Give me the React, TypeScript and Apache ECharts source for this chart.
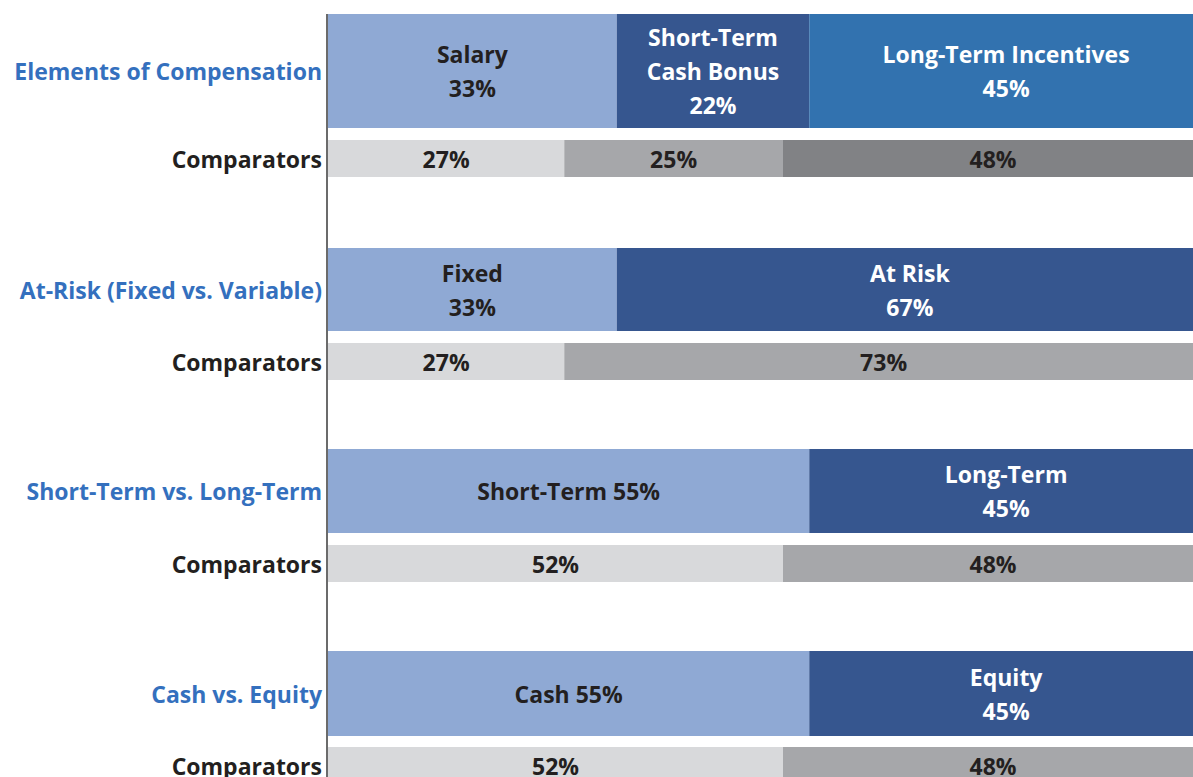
import React, { useEffect, useRef } from "react";
import * as echarts from "echarts";

// ---- Data ----
const groupNames = [
  "Elements of Compensation",
  "At-Risk (Fixed vs. Variable)",
  "Short-Term vs. Long-Term",
  "Cash vs. Equity",
];
const comparatorLabel = "Comparators";
const companySegmentNames = [
  ["Salary", "Short-Term\nCash Bonus", "Long-Term Incentives"],
  ["Fixed", "At Risk"],
  ["Short-Term", "Long-Term"],
  ["Cash", "Equity"],
];
// whether the value sits on the same line as the segment name
const companyInline = [
  [false, false, false],
  [false, false],
  [true, false],
  [true, false],
];
const companyValues = [
  [33, 22, 45],
  [33, 67],
  [55, 45],
  [55, 45],
];
const comparatorValues = [
  [27, 25, 48],
  [27, 73],
  [52, 48],
  [52, 48],
];

// ---- Styles ----
const FONT = "Open Sans";
const FONT_SIZE = 23;
const companyColors = [
  ["#8FA9D4", "#36568F", "#3272AF"],
  ["#8FA9D4", "#36568F"],
  ["#8FA9D4", "#36568F"],
  ["#8FA9D4", "#36568F"],
];
const companyTextColors = [
  ["#231F20", "#FFFFFF", "#FFFFFF"],
  ["#231F20", "#FFFFFF"],
  ["#231F20", "#FFFFFF"],
  ["#231F20", "#FFFFFF"],
];
const comparatorColors = ["#D8D9DB", "#A6A7AA", "#818285"];
// grid layout: [top, height] for main and comparator rows
const rowLayout = [
  { main: [14, 114], comp: [140, 37] },
  { main: [248, 83], comp: [343, 37] },
  { main: [449, 84], comp: [545, 37] },
  { main: [651, 85], comp: [747, 37] },
];
const LEFT = 328;
const WIDTH = 875;

export default function App() {
  const ref = useRef<HTMLDivElement>(null);
  useEffect(() => {
    if (!ref.current) return;
    const chart = echarts.init(ref.current, null, { renderer: "svg" });
    const grids: any[] = [];
    const xAxes: any[] = [];
    const yAxes: any[] = [];
    const series: any[] = [];
    let gi = 0;
    groupNames.forEach((g, r) => {
      const rows = [
        {
          name: g,
          labelColor: "#3470BE",
          layout: rowLayout[r].main,
          values: companyValues[r],
          colors: companyColors[r],
          textColors: companyTextColors[r],
          names: companySegmentNames[r],
          inline: companyInline[r],
        },
        {
          name: comparatorLabel,
          labelColor: "#231F20",
          layout: rowLayout[r].comp,
          values: comparatorValues[r],
          colors: comparatorColors,
          textColors: comparatorValues[r].map(() => "#231F20"),
          names: null as any,
          inline: null as any,
        },
      ];
      rows.forEach((row) => {
        grids.push({
          left: LEFT,
          width: WIDTH,
          top: row.layout[0],
          height: row.layout[1],
          containLabel: false,
        });
        xAxes.push({
          type: "value",
          gridIndex: gi,
          min: 0,
          max: 100,
          show: false,
        });
        yAxes.push({
          type: "category",
          gridIndex: gi,
          data: [row.name],
          axisLine: { show: false },
          axisTick: { show: false },
          axisLabel: {
            color: row.labelColor,
            fontFamily: FONT,
            fontWeight: "bold",
            fontSize: FONT_SIZE,
            margin: 6,
          },
        });
        row.values.forEach((v, k) => {
          const text = row.names
            ? row.names[k] + (row.inline[k] ? " " : "\n") + v + "%"
            : v + "%";
          series.push({
            type: "bar",
            xAxisIndex: gi,
            yAxisIndex: gi,
            stack: "s" + gi,
            barWidth: "100%",
            data: [v],
            itemStyle: { color: row.colors[k] },
            label: {
              show: true,
              position: "inside",
              formatter: text,
              color: row.textColors[k],
              fontFamily: FONT,
              fontWeight: "bold",
              fontSize: FONT_SIZE,
              lineHeight: 34,
            },
          });
        });
        gi++;
      });
    });
    chart.setOption({
      animation: false,
      backgroundColor: "#FFFFFF",
      grid: grids,
      xAxis: xAxes,
      yAxis: yAxes,
      series,
      graphic: [
        {
          type: "line",
          shape: { x1: LEFT - 1, y1: 14, x2: LEFT - 1, y2: 800 },
          style: { stroke: "#6B6B6B", lineWidth: 2 },
          z: 100,
        },
      ],
    });
    return () => chart.dispose();
  }, []);
  return (
    <div
      style={{
        position: "fixed",
        left: 0,
        top: 0,
        width: 1193,
        height: 777,
        overflow: "hidden",
      }}
    >
      <div ref={ref} style={{ width: 1220, height: 800 }} />
    </div>
  );
}
